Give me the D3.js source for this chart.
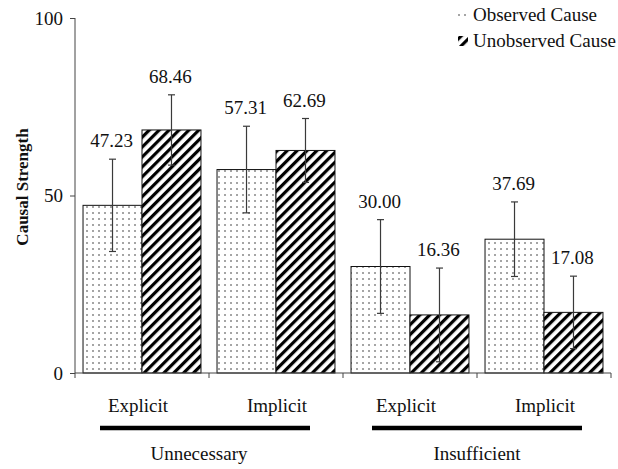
<!DOCTYPE html>
<html>
<head>
<meta charset="utf-8">
<script src="https://cdn.jsdelivr.net/npm/d3@7/dist/d3.min.js"></script>
</head>
<body style="margin:0">
<svg id="chart" width="618" height="469" style="display:block;font-family:'Liberation Serif','Times New Roman',serif"></svg>
<script>
// ---- data ----
const groups = ["Unnecessary", "Insufficient"];
const conditions = ["Explicit", "Implicit", "Explicit", "Implicit"];
const categories = ["Unnecessary-Explicit", "Unnecessary-Implicit", "Insufficient-Explicit", "Insufficient-Implicit"];
const categoryGroup = ["Unnecessary", "Unnecessary", "Insufficient", "Insufficient"];
const seriesNames = ["Observed Cause", "Unobserved Cause"];
const observedValues = [47.23, 57.31, 30.00, 37.69];
const unobservedValues = [68.46, 62.69, 16.36, 17.08];
const observedErrors = [13.0, 12.2, 13.2, 10.5];
const unobservedErrors = [9.9, 9.0, 13.2, 10.2];
const yTicks = [0, 50, 100];

(function () {
const FONT = "'Liberation Serif', 'Times New Roman', serif";
const svg = d3.select("#chart");
const pl = 75, pr = 611, pt = 18, pb = 373;

const x0 = d3.scaleBand().domain(categories).range([pl, pr]).padding(0);
const x1 = d3.scaleBand().domain(seriesNames).range([0, x0.bandwidth()])
  .paddingInner(0).paddingOuter(0.136);
const y = d3.scaleLinear().domain([0, 100]).range([pb, pt]);

// ---- patterns ----
const defs = svg.append("defs");
const dots = defs.append("pattern").attr("id", "dots")
  .attr("patternUnits", "userSpaceOnUse").attr("width", 6).attr("height", 6);
dots.append("rect").attr("width", 6).attr("height", 6).attr("fill", "#fff");
dots.append("circle").attr("cx", 3).attr("cy", 3).attr("r", 0.8).attr("fill", "#333");

const hatch = defs.append("pattern").attr("id", "hatch")
  .attr("patternUnits", "userSpaceOnUse").attr("width", 7).attr("height", 7)
  .attr("patternTransform", "rotate(45)");
hatch.append("rect").attr("width", 7).attr("height", 7).attr("fill", "#fff");
hatch.append("rect").attr("x", 0).attr("width", 3.2).attr("height", 7).attr("fill", "#000");

const fills = { "Observed Cause": "url(#dots)", "Unobserved Cause": "url(#hatch)" };

// ---- bars ----
const rows = [];
categories.forEach((c, i) => {
  rows.push({ cat: c, s: seriesNames[0], v: observedValues[i], e: observedErrors[i] });
  rows.push({ cat: c, s: seriesNames[1], v: unobservedValues[i], e: unobservedErrors[i] });
});
const cx = d => x0(d.cat) + x1(d.s) + x1.bandwidth() / 2;

const g = svg.append("g");
g.selectAll("rect.bar").data(rows).enter().append("rect")
  .attr("class", "bar")
  .attr("x", d => x0(d.cat) + x1(d.s))
  .attr("y", d => y(d.v))
  .attr("width", x1.bandwidth())
  .attr("height", d => y(0) - y(d.v))
  .attr("fill", d => fills[d.s])
  .attr("stroke", "#111").attr("stroke-width", 1);

// error bars
const cap = 3.5;
const eb = g.selectAll("g.err").data(rows).enter().append("g").attr("class", "err")
  .attr("stroke", "#3a3a3a").attr("stroke-width", 1.2);
eb.append("line")
  .attr("x1", cx).attr("x2", cx)
  .attr("y1", d => y(d.v + d.e)).attr("y2", d => y(d.v - d.e));
eb.append("line")
  .attr("x1", d => cx(d) - cap).attr("x2", d => cx(d) + cap)
  .attr("y1", d => y(d.v + d.e)).attr("y2", d => y(d.v + d.e));
eb.append("line")
  .attr("x1", d => cx(d) - cap).attr("x2", d => cx(d) + cap)
  .attr("y1", d => y(d.v - d.e)).attr("y2", d => y(d.v - d.e));

function txt(sel, size) {
  return sel.attr("font-family", FONT).style("font-family", FONT)
    .attr("font-size", size).style("font-size", size + "px").attr("fill", "#111");
}

// value labels
txt(g.selectAll("text.val").data(rows).enter().append("text")
  .attr("class", "val")
  .attr("x", d => cx(d) - 1)
  .attr("y", d => y(d.v + d.e) - 12)
  .attr("text-anchor", "middle"), 19)
  .text(d => d.v.toFixed(2));

// ---- axes ----
const yAxis = d3.axisLeft(y).tickValues(yTicks).tickSize(5).tickPadding(7);
const ya = svg.append("g").attr("transform", `translate(${pl},0)`).call(yAxis)
  .attr("font-family", FONT).attr("font-size", 19);
ya.select(".domain").attr("stroke", "#444").attr("d", `M0,${pt}V${pb}`);
ya.selectAll(".tick line").attr("stroke", "#444");
txt(ya.selectAll(".tick text"), 19);

// x axis line with ticks at category boundaries
const xa = svg.append("g");
xa.append("line").attr("x1", pl).attr("x2", pr).attr("y1", pb).attr("y2", pb)
  .attr("stroke", "#444").attr("stroke-width", 1);
const bounds = categories.map(c => x0(c)).concat([x0(categories[categories.length - 1]) + x0.bandwidth()]);
xa.selectAll("line.tk").data(bounds).enter().append("line").attr("class", "tk")
  .attr("x1", d => d).attr("x2", d => d)
  .attr("y1", pb).attr("y2", pb + 5)
  .attr("stroke", "#444");

// condition labels
txt(svg.selectAll("text.cond").data(categories).enter().append("text")
  .attr("class", "cond")
  .attr("x", (c, i) => x0(c) + x0.bandwidth() / 2 - (i % 2 === 0 ? 4 : -1))
  .attr("y", 412)
  .attr("text-anchor", "middle"), 19)
  .text((c, i) => conditions[i]);

// group underlines and labels
groups.forEach(gr => {
  const cats = categories.filter((c, i) => categoryGroup[i] === gr);
  const gx0 = x0(cats[0]);
  const gx1 = x0(cats[cats.length - 1]) + x0.bandwidth();
  const mx = (gx0 + gx1) / 2 - (gr === groups[0] ? 4 : 0);
  svg.append("line").attr("x1", mx - 105).attr("x2", mx + 105)
    .attr("y1", 428).attr("y2", 428)
    .attr("stroke", "#000").attr("stroke-width", 4.5);
  txt(svg.append("text").attr("x", mx - (gr === groups[0] ? 6 : 0)).attr("y", 460)
    .attr("text-anchor", "middle"), 19)
    .text(gr);
});

// y-axis title
txt(svg.append("text")
  .attr("transform", "translate(28,187) rotate(-90)")
  .attr("text-anchor", "middle"), 17)
  .attr("font-weight", "bold").style("font-weight", "bold")
  .text("Causal Strength");

// ---- legend ----
const legend = svg.append("g");
seriesNames.forEach((s, i) => {
  const ly = 21 + i * 26;
  legend.append("rect").attr("x", 458).attr("y", ly - 11).attr("width", 10).attr("height", 10)
    .attr("fill", fills[s]);
  txt(legend.append("text").attr("x", 473).attr("y", ly), 19)
    .text(s);
});
})();
</script>
</body>
</html>
